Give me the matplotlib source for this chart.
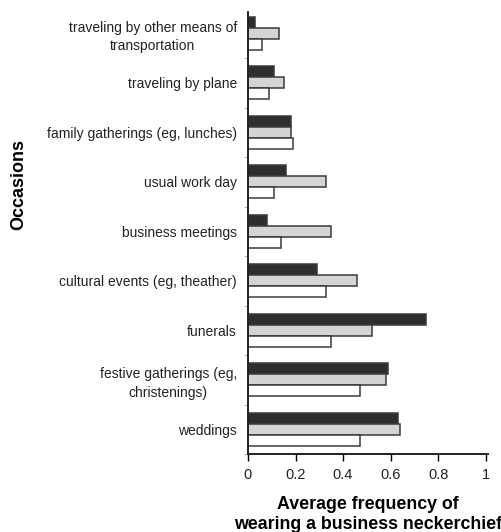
import matplotlib
matplotlib.use("Agg")
import matplotlib.pyplot as plt
import numpy as np

plt.rcParams["font.family"] = ["Liberation Sans", "DejaVu Sans"]

# occasions, listed bottom to top
occasions = [
    "weddings",
    "festive gatherings (eg,\nchristenings)",
    "funerals",
    "cultural events (eg, theather)",
    "business meetings",
    "usual work day",
    "family gatherings (eg, lunches)",
    "traveling by plane",
    "traveling by other means of\ntransportation",
]
series_dark = [0.63, 0.59, 0.75, 0.29, 0.08, 0.16, 0.18, 0.11, 0.03]
series_grey = [0.64, 0.58, 0.52, 0.46, 0.35, 0.33, 0.18, 0.15, 0.13]
series_white = [0.47, 0.47, 0.35, 0.33, 0.14, 0.11, 0.19, 0.09, 0.06]
x_ticks = [0, 0.2, 0.4, 0.6, 0.8, 1]
x_ticklabels = ["0", "0.2", "0.4", "0.6", "0.8", "1"]

fig = plt.figure(figsize=(5.01, 5.32), dpi=100)
ax = fig.add_axes([248 / 501, 78 / 532, 240 / 501, 442 / 532])

y = np.arange(len(occasions)) + 0.5
h = 0.222
style = dict(height=h, edgecolor="#3a3a3a", linewidth=1.1)
ax.barh(y + h, series_dark, color="#2e2e2e", **style)
ax.barh(y, series_grey, color="#d4d4d4", **style)
ax.barh(y - h, series_white, color="white", **style)

ax.set_xlim(0, 1.01)
ax.set_ylim(0, 8.93)

ax.set_xticks(x_ticks)
ax.set_xticklabels(x_ticklabels, fontsize=10.5, color="#222222")
ax.tick_params(axis="x", direction="out", length=5, width=1.0, pad=5)

ax.set_yticks(y)
ax.set_yticklabels(occasions, fontsize=10, color="#222222",
                   multialignment="center", linespacing=1.4)
ax.tick_params(axis="y", which="major", length=0, pad=8)
ax.set_yticks(np.arange(0, len(occasions)), minor=True)
ax.tick_params(axis="y", which="minor", direction="out", length=3,
               width=0.6, color="#aaaaaa")

for side in ("top", "right"):
    ax.spines[side].set_visible(False)
for side in ("left", "bottom"):
    ax.spines[side].set_linewidth(1.4)
    ax.spines[side].set_color("#222222")

ax.set_xlabel("Average frequency of\nwearing a business neckerchief",
              fontsize=12.8, fontweight="bold", labelpad=10, linespacing=1.28)
fig.text(0.037, 348 / 532, "Occasions", rotation=90, fontsize=13,
         fontweight="bold", ha="center", va="center")

fig.savefig("out.png", dpi=100, facecolor="white")
